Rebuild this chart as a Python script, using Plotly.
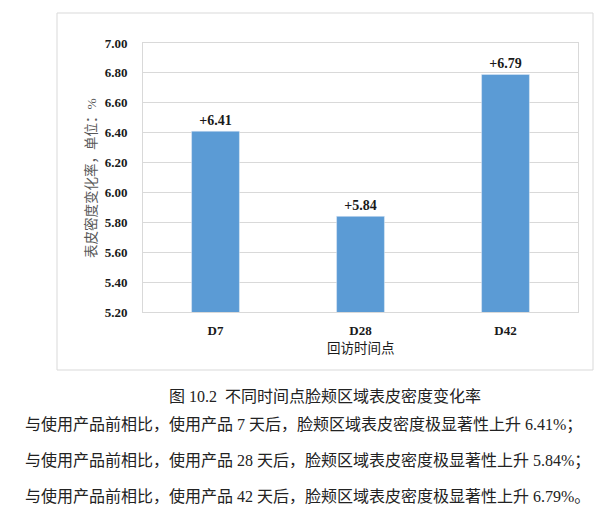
import plotly.graph_objects as go

# data
categories = ["D7", "D28", "D42"]
values = [6.41, 5.84, 6.79]
y_ticks = [5.20, 5.40, 5.60, 5.80, 6.00, 6.20, 6.40, 6.60, 6.80, 7.00]

caption = "图 10.2  不同时间点脸颊区域表皮密度变化率"
notes = [
    "与使用产品前相比，使用产品 7 天后，脸颊区域表皮密度极显著性上升 6.41%；",
    "与使用产品前相比，使用产品 28 天后，脸颊区域表皮密度极显著性上升 5.84%；",
    "与使用产品前相比，使用产品 42 天后，脸颊区域表皮密度极显著性上升 6.79%。",
]

serif = "Liberation Serif, Times New Roman, Noto Sans CJK SC, serif"
cjk = "Liberation Serif, Noto Sans CJK SC, sans-serif"
grid = "#d9d9d9"

# the page body has an 8px margin, so shift everything by that
OFF = 8
# plot area in screen pixels: x 143-578, y 43-312
L, R, T, B = 143 - OFF, 578 - OFF, 43 - OFF, 312 - OFF
W, H = R - L, B - T


def px(x):
    return (x - OFF - L) / W


def py(y):
    return (B - (y - OFF)) / H


fig = go.Figure(go.Bar(
    x=categories,
    y=values,
    width=0.33,
    marker_color="#5b9bd5",
    texttemplate="+%{y:.2f}",
    textposition="outside",
    textfont=dict(family=serif, size=14, color="#1a1a1a", weight="bold"),
    cliponaxis=False,
))

fig.update_layout(
    width=615, height=521,
    margin=dict(l=L, r=615 - R, t=T, b=521 - B),
    paper_bgcolor="white", plot_bgcolor="white",
    showlegend=False,
    xaxis=dict(
        showgrid=False, showline=True, mirror=True, linecolor=grid, linewidth=1,
        ticks="", ticklabelstandoff=6,
        tickfont=dict(family=serif, size=13, color="#1a1a1a", weight="bold"),
    ),
    yaxis=dict(
        range=[5.2, 7.0], tickvals=y_ticks, tickformat=".2f",
        showgrid=True, gridcolor=grid, gridwidth=1,
        showline=True, mirror=True, linecolor=grid, linewidth=1,
        zeroline=False, ticks="", ticklabelstandoff=12,
        tickfont=dict(family=serif, size=13, color="#1a1a1a", weight="bold"),
    ),
)

# outer chart frame
fig.add_shape(type="rect", xref="paper", yref="paper",
              x0=px(57), x1=px(593), y0=py(370), y1=py(13),
              line=dict(color=grid, width=1), fillcolor="rgba(0,0,0,0)")

# axis titles
fig.add_annotation(text="表皮密度变化率，单位：%", xref="paper", yref="paper",
                   x=px(91), y=py(178), xanchor="center", yanchor="middle",
                   textangle=-90, showarrow=False,
                   font=dict(family=cjk, size=13.5, color="#595959"))
fig.add_annotation(text="回访时间点", xref="paper", yref="paper",
                   x=px(361), y=py(348), xanchor="center", yanchor="middle",
                   showarrow=False,
                   font=dict(family=cjk, size=13.5, color="#1a1a1a"))

# caption and notes under the chart
fig.add_annotation(text=caption, xref="paper", yref="paper",
                   x=px(325), y=py(396), xanchor="center", yanchor="middle",
                   showarrow=False,
                   font=dict(family=cjk, size=16, color="#222222"))
for line, yy in zip(notes, [425, 461, 497]):
    fig.add_annotation(text=line, xref="paper", yref="paper",
                       x=px(23), y=py(yy), xanchor="left", yanchor="middle",
                       showarrow=False,
                       font=dict(family=cjk, size=16, color="#222222"))

fig.write_html("out.html")
